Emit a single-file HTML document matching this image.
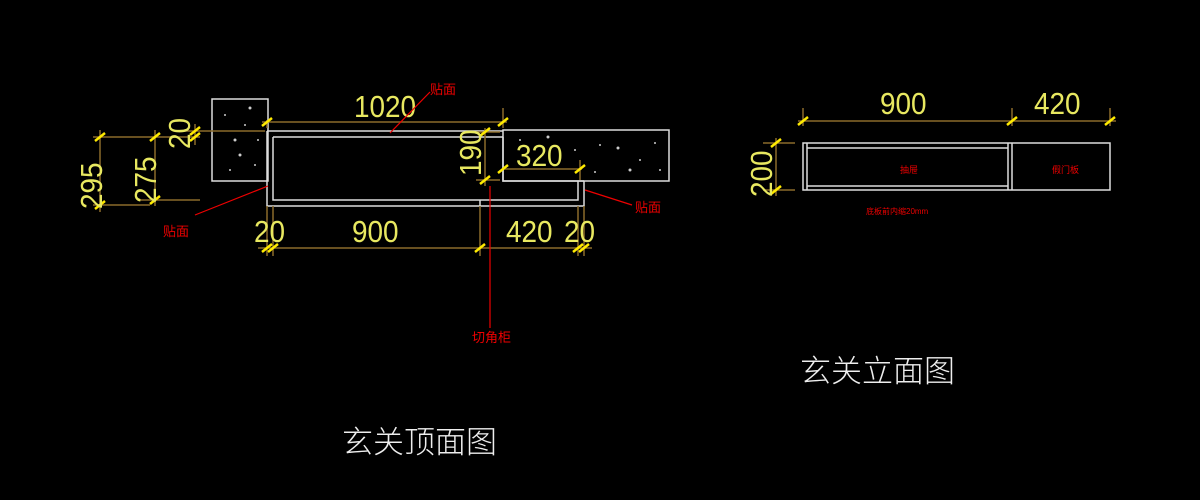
<!DOCTYPE html>
<html><head><meta charset="utf-8"><style>html,body{margin:0;background:#000;}svg{display:block}</style></head>
<body>
<svg width="1200" height="500" viewBox="0 0 1200 500" xmlns="http://www.w3.org/2000/svg">
<rect width="1200" height="500" fill="#000"/>
<g fill="none" stroke="#ddd" stroke-width="1.5">
<path d="M268 181 L212 181 L212 99 L268 99 Z"/>
<rect x="503" y="130" width="166" height="51"/>
<path d="M267 131 L503 131 M273 137 L503 137 M267 131 L267 206 L584 206 L584 181 M273 137 L273 200 L578 200 L578 181 M503 137 L503 181 L584 181 M480 200 L480 206"/>
<rect x="803" y="143" width="307" height="47"/>
<path d="M807 143 L807 190 M807 148 L1008 148 M807 186 L1008 186 M1008 143 L1008 190 M1012 143 L1012 190"/>
</g>
<g fill="#ccc">
<circle cx="225" cy="115" r="1"/><circle cx="235" cy="140" r="1.5"/><circle cx="245" cy="125" r="1"/><circle cx="240" cy="155" r="1.5"/><circle cx="255" cy="165" r="1"/><circle cx="230" cy="170" r="1"/><circle cx="250" cy="108" r="1.5"/><circle cx="258" cy="140" r="1"/>
<circle cx="520" cy="140" r="1"/><circle cx="548" cy="137" r="1.5"/><circle cx="575" cy="150" r="1"/><circle cx="600" cy="145" r="1"/><circle cx="618" cy="148" r="1.5"/><circle cx="640" cy="160" r="1"/><circle cx="655" cy="143" r="1"/><circle cx="630" cy="170" r="1.5"/><circle cx="595" cy="172" r="1"/><circle cx="660" cy="170" r="1"/><circle cx="545" cy="165" r="1"/>
</g>
<g stroke="#8a6a2a" stroke-width="1.5" fill="none">
<path d="M262 122 L507 122 M503 108 L503 128 M267 120 L267 128"/>
<path d="M485 128 L485 186 M476 132 L500 132 M476 180 L500 180"/>
<path d="M503 169 L582 169 M580 160 L580 180"/>
<path d="M258 248 L592 248 M267 206 L267 256 M273 206 L273 256 M480 206 L480 256 M578 206 L578 256 M584 206 L584 256"/>
<path d="M93 137 L160 137 M93 205 L150 205 M100 130 L100 212 M155 130 L155 206 M140 200 L200 200 M160 137 L200 137 M175 131 L265 131 M195 124 L195 145"/>
<path d="M798 121 L1116 121 M803 108 L803 126 M1012 108 L1012 126 M1110 108 L1110 126"/>
<path d="M763 143 L795 143 M763 190 L795 190 M776 138 L776 196"/>
</g>
<g stroke="#ffea00" stroke-width="2.5">
<path d="M262 126 L272 118 M498 126 L508 118 M480 136 L490 128 M480 184 L490 176 M498 173 L508 165 M575 173 L585 165"/>
<path d="M262 252 L272 244 M268 252 L278 244 M475 252 L485 244 M573 252 L583 244 M579 252 L589 244"/>
<path d="M95 141 L105 133 M95 209 L105 201 M150 141 L160 133 M150 204 L160 196 M190 135 L200 127 M190 141 L200 133"/>
<path d="M798 125 L808 117 M1007 125 L1017 117 M1105 125 L1115 117 M771 147 L781 139 M771 194 L781 186"/>
</g>
<g fill="#e8e860" font-family="Liberation Sans, sans-serif" font-size="31">
<text transform="translate(354 117) scale(0.9 1)">1020</text>
<text transform="translate(516 166) scale(0.9 1)">320</text>
<text transform="translate(254 242) scale(0.9 1)">20</text>
<text transform="translate(352 242) scale(0.9 1)">900</text>
<text transform="translate(506 242) scale(0.9 1)">420</text>
<text transform="translate(564 242) scale(0.9 1)">20</text>
<text transform="translate(481 176) rotate(-90) scale(0.9 1)">190</text>
<text transform="translate(102 209) rotate(-90) scale(0.9 1)">295</text>
<text transform="translate(156 203) rotate(-90) scale(0.9 1)">275</text>
<text transform="translate(190 149) rotate(-90) scale(0.9 1)">20</text>
<text transform="translate(880 114) scale(0.9 1)">900</text>
<text transform="translate(1034 114) scale(0.9 1)">420</text>
<text transform="translate(772 197) rotate(-90) scale(0.9 1)">200</text>
</g>
<g stroke="#e00" stroke-width="1.2" fill="none">
<path d="M430 92 L390 133 M195 215 L268 186 M585 190 L632 205 M490 186 L490 328"/>
</g>
<g fill="#e00" font-family="Liberation Sans, 'Noto Sans CJK SC', sans-serif">
<text x="430" y="94" font-size="13">贴面</text>
<text x="163" y="236" font-size="13">贴面</text>
<text x="635" y="212" font-size="13">贴面</text>
<text x="472" y="342" font-size="13">切角柜</text>
<text x="900" y="173" font-size="9">抽屉</text>
<text x="1052" y="173" font-size="9">假门板</text>
<text x="866" y="214" font-size="8">底板前内缩20mm</text>
</g>
<g fill="#eee" font-family="'Noto Sans CJK SC', sans-serif" font-weight="300" font-size="31">
<text x="342" y="453">玄关顶面图</text>
<text x="800" y="382">玄关立面图</text>
</g>
</svg>
</body></html>
